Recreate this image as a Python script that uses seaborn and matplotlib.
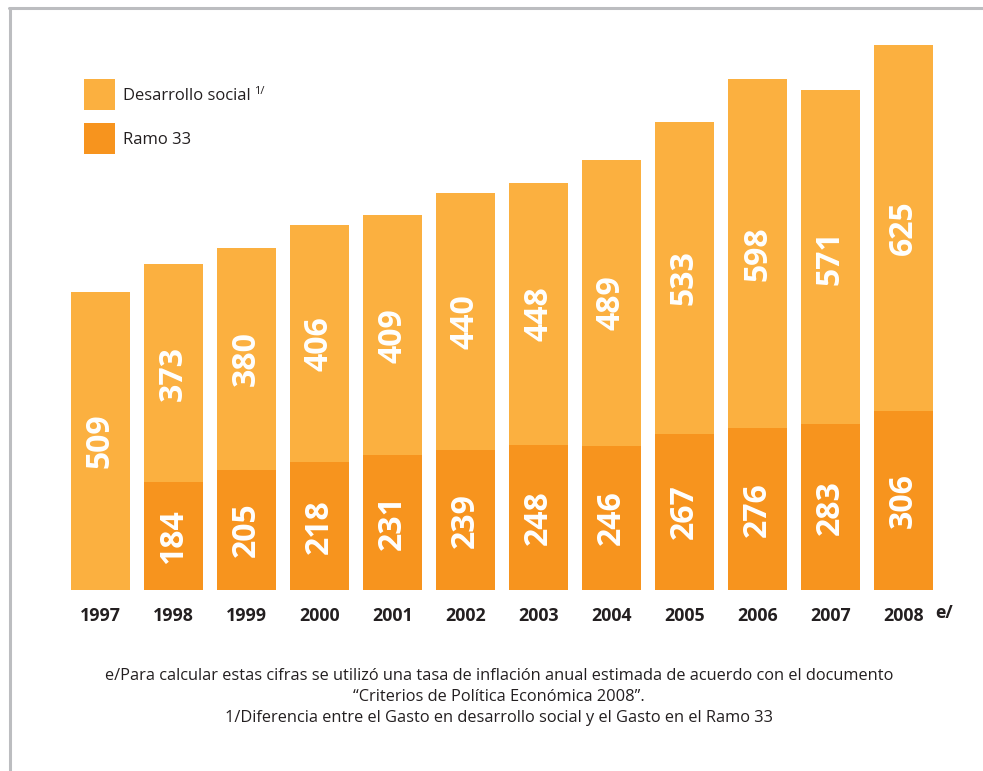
import matplotlib
matplotlib.use("Agg")
import matplotlib.pyplot as plt
import seaborn as sns
import numpy as np
import pandas as pd
from matplotlib.lines import Line2D
from matplotlib.patches import Rectangle

years = ["1997", "1998", "1999", "2000", "2001", "2002", "2003", "2004", "2005", "2006", "2007", "2008"]
desarrollo_social = [509, 373, 380, 406, 409, 440, 448, 489, 533, 598, 571, 625]
ramo_33 = [0, 184, 205, 218, 231, 239, 248, 246, 267, 276, 283, 306]
legend_labels = ["Desarrollo social", "Ramo 33"]
footnotes = [
    "e/Para calcular estas cifras se utilizó una tasa de inflación anual estimada de acuerdo con el documento",
    "\u201cCriterios de Política Económica 2008\u201d.",
    "1/Diferencia entre el Gasto en desarrollo social y el Gasto en el Ramo 33",
]

LIGHT = "#FBB040"
DARK = "#F7941E"
TEXT = "#231F20"

sns.set_theme(style="white")
plt.rcParams["font.family"] = ["Open Sans", "DejaVu Sans"]

df = pd.DataFrame({"year": years, "des": desarrollo_social, "ramo": ramo_33})
df["total"] = df["des"] + df["ramo"]

W, H = 983, 771
fig = plt.figure(figsize=(W / 100, H / 100), dpi=100)
ax = fig.add_axes([64 / W, 181 / H, 876 / W, 570 / H])

sns.barplot(data=df, x="year", y="total", color=LIGHT, width=0.81, ax=ax,
            saturation=1, order=years, linewidth=0, edgecolor="none")
sns.barplot(data=df, x="year", y="ramo", color=DARK, width=0.81, ax=ax,
            saturation=1, order=years, linewidth=0, edgecolor="none")

ax.set_xlim(-0.5, len(years) - 0.5)
ax.set_ylim(0, 974)
for s in ax.spines.values():
    s.set_visible(False)
ax.set_yticks([])
ax.set_xlabel("")
ax.set_ylabel("")
ax.tick_params(axis="x", length=0, pad=12)
ax.set_xticks(range(len(years)))
ax.set_xticklabels(years, fontsize=12.8, fontweight="bold", color=TEXT)

for i, row in df.iterrows():
    if row["ramo"] > 0:
        ax.text(i, row["ramo"] / 2, f"{row['ramo']}", rotation=90, ha="center", va="center",
                color="white", fontsize=23, fontweight="bold")
    ax.text(i, row["ramo"] + row["des"] / 2, f"{row['des']}", rotation=90, ha="center",
            va="center", color="white", fontsize=23, fontweight="bold")

# "e/" after 2008 label
fig.text(935 / W, 1 - 613 / H, "e/", fontsize=12.8, fontweight="bold", color=TEXT,
         ha="left", va="center")

# legend
for k, (col, lab) in enumerate(zip([LIGHT, DARK], legend_labels)):
    top = 79 + 44 * k
    fig.add_artist(Rectangle((84 / W, 1 - (top + 31) / H), 31 / W, 31 / H,
                             facecolor=col, edgecolor="none", transform=fig.transFigure))
    fig.text(123 / W, 1 - (top + 17) / H, lab, fontsize=12, color=TEXT, ha="left", va="center")
fig.text(254 / W, 1 - 92 / H, "1/", fontsize=8, color=TEXT, ha="left", va="center")

for k, line in enumerate(footnotes):
    fig.text(499 / W, 1 - (676 + 21 * k) / H, line, ha="center", va="center",
             fontsize=11.8, color=TEXT)

# frame lines
fig.add_artist(Line2D([9 / W, 1], [1 - 8 / H, 1 - 8 / H], color="#BCBDC0", lw=2.2,
                      transform=fig.transFigure))
fig.add_artist(Line2D([9.5 / W, 9.5 / W], [0, 1 - 8 / H], color="#BCBDC0", lw=2.2,
                      transform=fig.transFigure))

fig.savefig("out.png", dpi=100)
